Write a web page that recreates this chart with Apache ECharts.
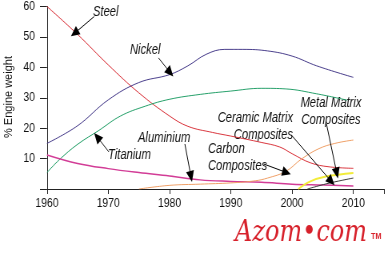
<!DOCTYPE html>
<html><head><meta charset="utf-8">
<script src="https://cdn.jsdelivr.net/npm/echarts@6/dist/echarts.min.js"></script>
<style>
html,body{margin:0;padding:0;background:#fff;overflow:hidden;width:386px;height:259px}
#c{width:482.5px;height:259px;transform:scaleX(0.8);transform-origin:0 0}
</style>
</head><body><div id="c"></div>
<script>
// Data: [year, % engine weight]
const steel = [[1960,60],[1965,50.8],[1970,40.8],[1975,31.6],[1980,24],[1983,20.6],[1987,18.6],[1990,17.4],[1995,15.3],[1998,13.8],[2000,11.6],[2003,8.6],[2006,7.3],[2010,6.8]];
const nickel = [[1960,15],[1965,20.8],[1970,29.3],[1975,35],[1980,37.6],[1983,40.5],[1986,44.3],[1989,45.9],[1992,45.9],[1996,45.4],[2000,43.7],[2004,40.5],[2010,36.7]];
const titanium = [[1960,5.4],[1962,9.6],[1965,14.7],[1968.5,19.3],[1972,24],[1976,27.2],[1980,29.5],[1985,31.1],[1990,32.2],[1995,33.1],[1999,32.9],[2004,31.3],[2009,29.2]];
const aluminium = [[1960,11.2],[1965,8.4],[1970,6.7],[1975,5.4],[1980,4.3],[1985,3.0],[1990,2.5],[1995,2.2],[2000,1.6],[2005,1.3],[2010,1.0]];
const carbonComposites = [[1975,0],[1980,1.2],[1985,1.6],[1990,2.0],[1994,2.7],[1996,3.6],[1999,5.8],[2001.5,9.8],[2004.3,13.2],[2007,15],[2010,16.1]];
const metalMatrix = [[2001,0],[2003,2.5],[2005.5,4.1],[2010,5.3]];
const ceramicMatrix = [[2002.5,0],[2006,1.9],[2010,3.6]];
const yTicks = [0,10,20,30,40,50,60];
const xTicks = [1960,1970,1980,1990,2000,2010];
// Annotation arrows: [tail, head] in data units
const arrSteel = [[1967.7,56.7],[1964.5,51.2]];
const arrNickel = [[1978.2,43.1],[1980.1,38.3]];
const arrTitanium = [[1970.1,12.2],[1968.2,17.1]];
const arrAluminium = [[1982.5,14.8],[1983.5,4.1]];
const arrCarbon = [[1995.4,8.2],[1999.1,5.4]];
const arrCeramic = [[1999.9,17.7],[2006.4,2.5]];
const arrMetal = [[2005.6,21.5],[2007.3,5.2]];

const K = 0.8; // horizontal compression of the whole picture
const FONT = "'Liberation Sans',Arial,sans-serif";
const chart = echarts.init(document.getElementById('c'), null, {renderer:'canvas'});
function arrow(a){
  return {silent:true, symbol:['none','triangle'], symbolSize:[10,11], animation:false,
    lineStyle:{color:'#000', width:1, type:'solid'}, label:{show:false},
    data:[[{coord:a[0]},{coord:a[1]}]]};
}
function ser(name,data,color,width,a){
  const s = {name, type:'line', data, smooth:0.4, symbol:'none', animation:false,
    lineStyle:{color, width}};
  if(a) s.markLine = arrow(a);
  return s;
}
const it = (t,x,y,align)=>({type:'text', x:x/K, y, style:{text:t, font:"italic 14px "+FONT, fill:'#111', align:align||'left', verticalAlign:'middle'}});
chart.setOption({
  animation:false,
  grid:{left:47/K, right:-2/K, top:5, bottom:70, containLabel:false},
  xAxis:{type:'value', min:1960, max:2015, interval:10,
    axisLine:{lineStyle:{color:'#222', width:1}},
    axisTick:{length:5, lineStyle:{color:'#222'}},
    splitLine:{show:false}, showMaxLabel:false,
    axisLabel:{color:'#111', fontSize:13, fontFamily:FONT, margin:8,
      formatter:v=> xTicks.includes(v) ? String(v) : ''}},
  yAxis:{type:'value', min:0, max:60, interval:10,
    axisLine:{show:true, lineStyle:{color:'#222', width:1}},
    axisTick:{show:true, length:7/K, lineStyle:{color:'#222'}},
    splitLine:{show:false},
    axisLabel:{color:'#111', fontSize:13, fontFamily:FONT, margin:12/K,
      formatter:v=> yTicks.includes(v) && v>0 ? String(v) : ''}},
  series:[
    ser('Steel',steel,'#d9363e',1,arrSteel),
    ser('Nickel',nickel,'#4a3f8c',1,arrNickel),
    ser('Titanium',titanium,'#26a06a',1,arrTitanium),
    ser('Aluminium',aluminium,'#d23c96',1.5,arrAluminium),
    ser('Carbon Composites',carbonComposites,'#efa068',1,arrCarbon),
    ser('Metal Matrix Composites',metalMatrix,'#f2ec3a',2,arrMetal),
    ser('Ceramic Matrix Composites',ceramicMatrix,'#3a3a3a',1,arrCeramic)
  ],
  graphic:[
    {type:'text', x:9/K, y:97, rotation:Math.PI/2, scaleY:1/K,
      style:{text:'% Engine weight', font:"11px "+FONT, fill:'#111', align:'center', verticalAlign:'middle'}},
    it('Steel',93,12), it('Nickel',130,50), it('Titanium',108,155), it('Aluminium',138,138),
    it('Metal Matrix',331,103,'center'), it('Composites',331,120,'center'),
    it('Ceramic Matrix',293,118,'right'), it('Composites',293,135,'right'),
    it('Carbon',208,149), it('Composites',208,166),
    {type:'text', x:235/K, y:233, style:{text:'Azom\u2022com', font:"italic 30px 'DejaVu Serif',serif", fill:'#d7212b', verticalAlign:'middle'}},
    {type:'text', x:371/K, y:237, style:{text:'TM', font:"bold 9px "+FONT, fill:'#d7212b', verticalAlign:'middle'}}
  ]
});
</script></body></html>
